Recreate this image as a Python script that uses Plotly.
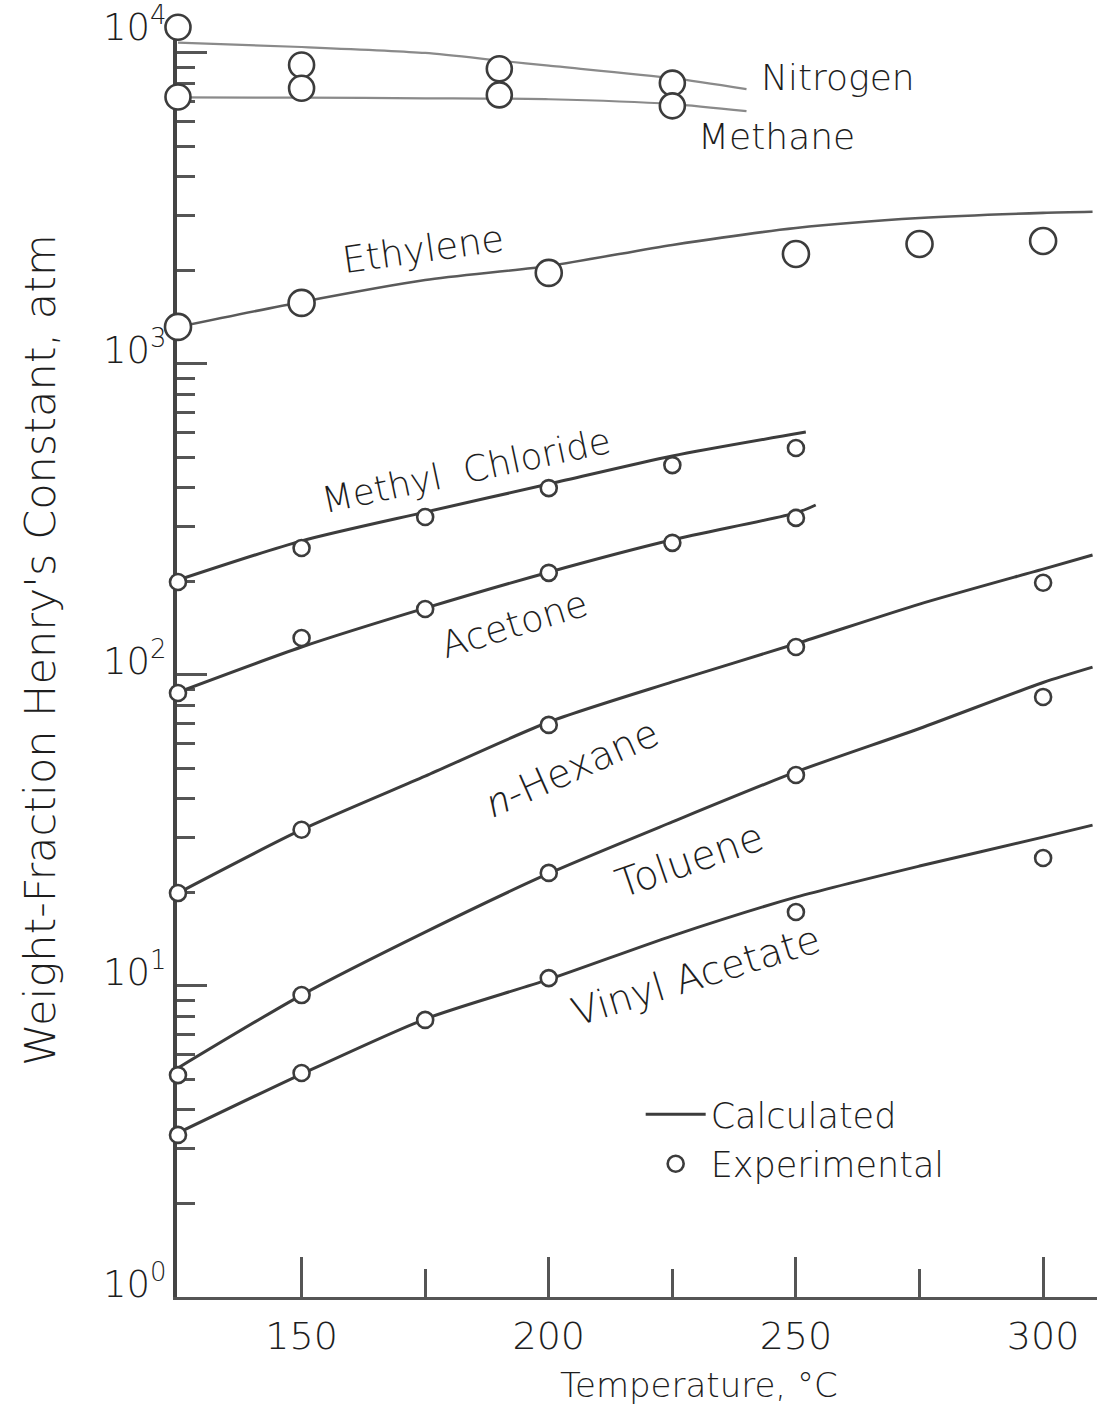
import math
import plotly.graph_objects as go

# ---------------- data ----------------
N2_CALC_T = [125, 150, 175, 190, 200, 225, 240]
N2_CALC_V = [10800, 10450, 10000, 9450, 9100, 8300, 7650]
N2_EXP_T = [125, 150, 190, 225]
N2_EXP_V = [12100, 9150, 8900, 8000]

CH4_CALC_T = [125, 150, 175, 200, 225, 240]
CH4_CALC_V = [7200, 7180, 7150, 7100, 6850, 6500]
CH4_EXP_T = [125, 150, 190, 225]
CH4_EXP_V = [7220, 7700, 7330, 6760]

C2H4_CALC_T = [125, 150, 175, 200, 225, 250, 275, 300, 310]
C2H4_CALC_V = [1316, 1583, 1862, 2066, 2414, 2736, 2946, 3060, 3085]
C2H4_EXP_T = [125, 150, 200, 250, 275, 300]
C2H4_EXP_V = [1316, 1572, 1963, 2258, 2432, 2486]

MECL_CALC_T = [125, 150, 175, 200, 225, 252]
MECL_CALC_V = [202, 270, 334, 411, 506, 604]
MECL_EXP_T = [125, 150, 175, 200, 225, 250]
MECL_EXP_V = [199, 256, 322, 399, 473, 537]

ACET_CALC_T = [125, 150, 175, 200, 225, 250, 254]
ACET_CALC_V = [88, 123, 164, 214, 272, 332, 352]
ACET_EXP_T = [125, 150, 175, 200, 225, 250]
ACET_EXP_V = [87.5, 131.5, 163, 213, 266, 320]

HEX_CALC_T = [125, 150, 175, 200, 225, 250, 275, 300, 310]
HEX_CALC_V = [19.9, 31.8, 47.3, 70.6, 95.0, 126, 169, 219, 243]
HEX_EXP_T = [125, 150, 200, 250, 300]
HEX_EXP_V = [19.9, 31.8, 69.1, 123, 198]

TOL_CALC_T = [125, 150, 175, 200, 225, 250, 275, 300, 310]
TOL_CALC_V = [5.45, 9.35, 14.9, 23.0, 33.7, 48.8, 67.3, 94.6, 106]
TOL_EXP_T = [125, 150, 200, 250, 300]
TOL_EXP_V = [5.17, 9.35, 23.1, 47.7, 85.0]

VAC_CALC_T = [125, 150, 175, 200, 225, 250, 275, 300, 310]
VAC_CALC_V = [3.37, 5.21, 7.83, 10.5, 14.5, 19.3, 24.3, 30.1, 32.9]
VAC_EXP_T = [125, 150, 175, 200, 250, 300]
VAC_EXP_V = [3.32, 5.25, 7.78, 10.6, 17.3, 25.8]

X_MAJOR = [150, 200, 250, 300]
X_MINOR = [175, 225, 275]
Y_MAJOR = [1, 10, 100, 1000, 10000]
Y_MINOR = [m * 10 ** k for k in range(0, 4) for m in range(2, 10)]

# compound labels
LABEL_TEXT = ["Nitrogen", "Methane", "Ethylene", "Methyl  Chloride", "Acetone",
              "<span style=\"font-family:'Open Sans';font-style:italic;font-weight:300\">n</span>-Hexane",
              "Toluene", "Vinyl Acetate"]
LABEL_T = [258.5, 246.0, 174.6, 183.3, 193.0, 204.4, 228.5, 229.8]
LABEL_LOGH = [3.920, 3.733, 3.367, 2.659, 2.161, 1.707, 1.405, 1.035]

# ---------------- styling ----------------
FONT = "DejaVu Sans"
INK = "#3c3c3c"
TXT = "#1e1e1e"
LIGHT = "#8a8a8a"
LABEL_ANGLE = [0, 0, -8, -12, -17, -24, -19, -17]
LABEL_SIZE = [36, 36, 37, 36, 37, 39, 40, 39]

X_RANGE = [124.8, 310.9]
Y_RANGE = [0, 4.106]

fig = go.Figure()

series = [
    (N2_CALC_T, N2_CALC_V, N2_EXP_T, N2_EXP_V, 25, LIGHT, 2.2),
    (CH4_CALC_T, CH4_CALC_V, CH4_EXP_T, CH4_EXP_V, 25, LIGHT, 2.2),
    (C2H4_CALC_T, C2H4_CALC_V, C2H4_EXP_T, C2H4_EXP_V, 26, "#5a5a5a", 2.6),
    (MECL_CALC_T, MECL_CALC_V, MECL_EXP_T, MECL_EXP_V, 16, INK, 3),
    (ACET_CALC_T, ACET_CALC_V, ACET_EXP_T, ACET_EXP_V, 16, INK, 3),
    (HEX_CALC_T, HEX_CALC_V, HEX_EXP_T, HEX_EXP_V, 16, INK, 3),
    (TOL_CALC_T, TOL_CALC_V, TOL_EXP_T, TOL_EXP_V, 16, INK, 3),
    (VAC_CALC_T, VAC_CALC_V, VAC_EXP_T, VAC_EXP_V, 16, INK, 3),
]

last = len(series) - 1
for i, (ct, cv, et, ev, msize, lcol, lw) in enumerate(series):
    fig.add_trace(go.Scatter(
        x=ct, y=cv, mode="lines",
        line=dict(color=lcol, width=lw, shape="spline", smoothing=0.7),
        name="Calculated", legendgroup="calc", legendrank=1,
        showlegend=(i == last), cliponaxis=False, hoverinfo="skip"))
for i, (ct, cv, et, ev, msize, lcol, lw) in enumerate(series):
    fig.add_trace(go.Scatter(
        x=et, y=ev, mode="markers",
        marker=dict(symbol="circle", size=msize, color="white",
                    line=dict(color=INK, width=2.6)),
        name="Experimental", legendgroup="exp", legendrank=2,
        showlegend=(i == last), cliponaxis=False, hoverinfo="skip"))


def tfont(size):
    return dict(family=FONT, size=size, color=TXT, weight=200)


annotations = []
for txt, t, lh, ang, sz in zip(LABEL_TEXT, LABEL_T, LABEL_LOGH, LABEL_ANGLE, LABEL_SIZE):
    annotations.append(dict(x=t, y=lh, xref="x", yref="y", text=txt, showarrow=False,
                            textangle=ang, font=tfont(sz),
                            xanchor="center", yanchor="middle"))

# y tick labels (10^n), drawn slightly above their ticks like the original
for v in Y_MAJOR:
    e = int(round(math.log10(v)))
    annotations.append(dict(x=0, y=e, xref="paper", yref="y", xanchor="right", yanchor="middle",
                            xshift=-8, yshift=(16 if e < 4 else 28),
                            text="10<sup>%d</sup>" % e, showarrow=False, font=tfont(37)))

annotations.append(dict(x=-0.1495, y=0.507, xref="paper", yref="paper",
                        xanchor="center", yanchor="middle",
                        text="Weight-Fraction Henry's Constant, atm", textangle=-90,
                        showarrow=False, font=tfont(43)))
annotations.append(dict(x=0.567, y=-0.069, xref="paper", yref="paper",
                        xanchor="center", yanchor="middle",
                        text="Temperature, °C", showarrow=False, font=tfont(34)))

fig.update_layout(
    width=1099, height=1411, autosize=False,
    margin=dict(l=177, r=2, t=20, b=114),
    paper_bgcolor="white", plot_bgcolor="white",
    annotations=annotations,
    showlegend=True,
    legend=dict(x=0.504, y=0.166, xanchor="left", yanchor="top",
                font=tfont(35),
                bgcolor="rgba(0,0,0,0)", tracegroupgap=1, itemwidth=60),
    xaxis=dict(range=X_RANGE, showgrid=False, zeroline=False,
               showline=True, linecolor="#555", linewidth=2.5,
               ticks="inside", tickvals=X_MAJOR, ticklen=40, tickwidth=3, tickcolor="#555",
               minor=dict(tickvals=X_MINOR, ticks="inside", ticklen=28, tickwidth=3, tickcolor="#555"),
               tickfont=tfont(38),
               ticklabelstandoff=4, layer="below traces"),
    yaxis=dict(type="log", range=Y_RANGE, showgrid=False, zeroline=False,
               showline=True, linecolor="#444", linewidth=3.5,
               ticks="inside", tickvals=Y_MAJOR, ticklen=30, tickwidth=2.5, tickcolor="#555",
               minor=dict(tickvals=Y_MINOR, ticks="inside", ticklen=18, tickwidth=2.5, tickcolor="#555"),
               showticklabels=False, layer="below traces"),
    xaxis2=dict(overlaying="x", side="top", anchor="y", range=X_RANGE, showgrid=False,
                zeroline=False, showline=True, linecolor="#b5b5b5", linewidth=1.5,
                ticks="inside", tickvals=X_MAJOR + X_MINOR, ticklen=24, tickwidth=3,
                tickcolor="#666", showticklabels=False, layer="below traces"),
    yaxis2=dict(overlaying="y", side="right", anchor="x", type="log", range=Y_RANGE,
                showgrid=False, zeroline=False, showline=False,
                ticks="inside", tickvals=Y_MAJOR + Y_MINOR, ticklen=12, tickwidth=1.5,
                tickcolor="#aaa", showticklabels=False, layer="below traces"),
)

fig.write_html("out.html")
